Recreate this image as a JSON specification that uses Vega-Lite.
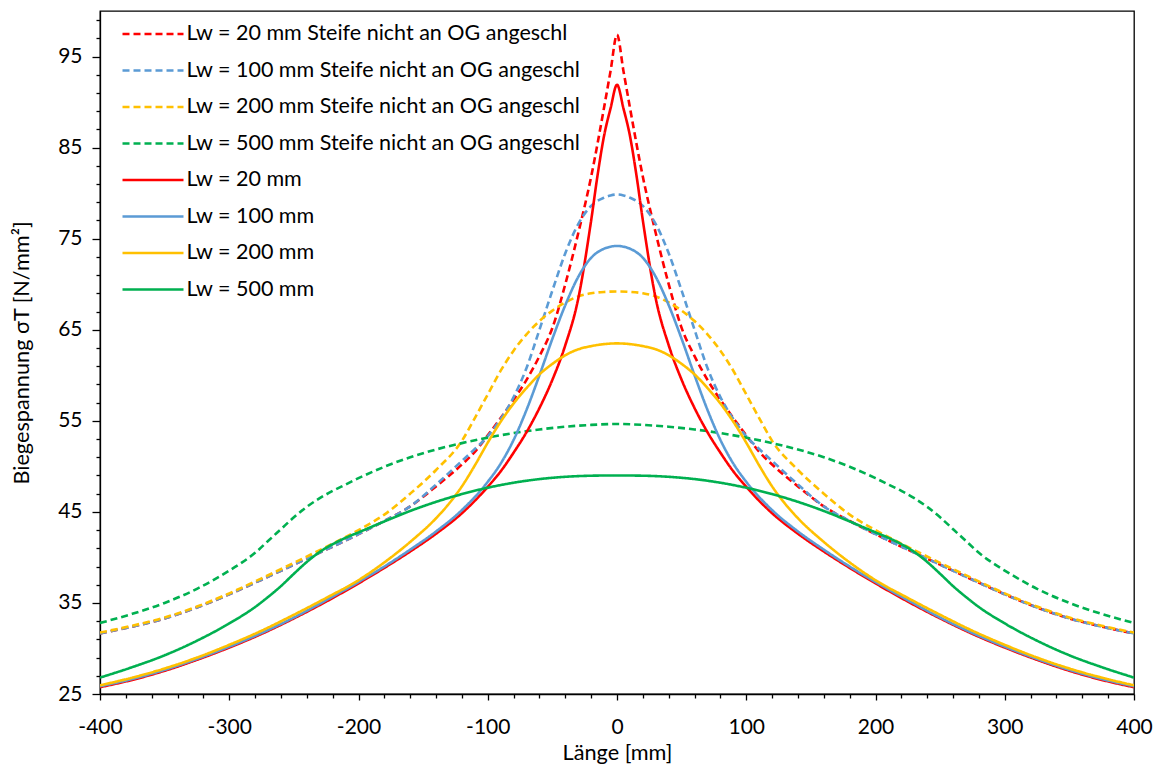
{
"$schema": "https://vega.github.io/schema/vega-lite/v6.json",
"width": 1034,
"height": 683,
"autosize": {"type": "none"},
"padding": {"left": 100, "top": 11, "right": 28, "bottom": 72},
"background": "white",
"config": {
  "view": {"stroke": "#000", "strokeWidth": 1.3},
  "font": "Lato",
  "axis": {"domainColor": "#000", "domainWidth": 1.3, "tickColor": "#000", "tickWidth": 1.3, "labelColor": "#000", "labelFont": "Lato", "labelFontSize": 21, "titleFont": "Lato", "titleFontSize": 21.7, "titleColor": "#000", "titleFontWeight": "normal", "grid": false, "labelOverlap": false, "labelFlush": false},
  "legend": {"orient": "none", "legendX": 21, "legendY": 11.5, "title": null, "symbolType": "M-3.05,0H3.05", "symbolSize": 400, "symbolStrokeWidth": 2.6, "symbolOffset": 20.5, "labelOffset": 22, "labelFont": "Lato", "labelFontSize": 21.5, "labelColor": "#000", "labelLimit": 600, "rowPadding": 14.5, "padding": 0}
},
"datasets": {
  "names": [
    {"k": "E", "Serie": "Lw = 20 mm Steife nicht an OG angeschl"},
    {"k": "F", "Serie": "Lw = 100 mm Steife nicht an OG angeschl"},
    {"k": "G", "Serie": "Lw = 200 mm Steife nicht an OG angeschl"},
    {"k": "H", "Serie": "Lw = 500 mm Steife nicht an OG angeschl"},
    {"k": "A", "Serie": "Lw = 20 mm"},
    {"k": "B", "Serie": "Lw = 100 mm"},
    {"k": "C", "Serie": "Lw = 200 mm"},
    {"k": "D", "Serie": "Lw = 500 mm"}
  ]
},
"data": {"values": [
{"k":"E","x":-400,"y":31.65},{"k":"E","x":-375,"y":32.4},{"k":"E","x":-350,"y":33.3},{"k":"E","x":-325,"y":34.5},{"k":"E","x":-300,"y":35.95},{"k":"E","x":-275,"y":37.55},{"k":"E","x":-250,"y":39.2},{"k":"E","x":-225,"y":40.85},{"k":"E","x":-200,"y":42.55},{"k":"E","x":-180,"y":44.0},{"k":"E","x":-160,"y":45.6},{"k":"E","x":-140,"y":47.8},{"k":"E","x":-120,"y":50.2},{"k":"E","x":-110,"y":51.6},{"k":"E","x":-100,"y":53.4},{"k":"E","x":-90,"y":55.3},{"k":"E","x":-80,"y":57.3},{"k":"E","x":-70,"y":59.5},{"k":"E","x":-60,"y":62.1},{"k":"E","x":-50,"y":65.2},{"k":"E","x":-40,"y":70.0},{"k":"E","x":-30,"y":75.6},{"k":"E","x":-20,"y":81.8},{"k":"E","x":-10,"y":89.4},{"k":"E","x":-5,"y":93.4},{"k":"E","x":0,"y":97.4},
{"k":"E","x":5,"y":93.4},{"k":"E","x":10,"y":89.4},{"k":"E","x":20,"y":81.8},{"k":"E","x":30,"y":75.6},{"k":"E","x":40,"y":70.0},{"k":"E","x":50,"y":65.2},{"k":"E","x":60,"y":62.1},{"k":"E","x":70,"y":59.5},{"k":"E","x":80,"y":57.3},{"k":"E","x":90,"y":55.3},{"k":"E","x":100,"y":53.4},{"k":"E","x":110,"y":51.6},{"k":"E","x":120,"y":50.2},{"k":"E","x":140,"y":47.8},{"k":"E","x":160,"y":45.6},{"k":"E","x":180,"y":44.0},{"k":"E","x":200,"y":42.55},{"k":"E","x":225,"y":40.85},{"k":"E","x":250,"y":39.2},{"k":"E","x":275,"y":37.55},{"k":"E","x":300,"y":35.95},{"k":"E","x":325,"y":34.5},{"k":"E","x":350,"y":33.3},{"k":"E","x":375,"y":32.4},{"k":"E","x":400,"y":31.65},
{"k":"F","x":-400,"y":31.65},{"k":"F","x":-375,"y":32.4},{"k":"F","x":-350,"y":33.3},{"k":"F","x":-325,"y":34.5},{"k":"F","x":-300,"y":35.95},{"k":"F","x":-275,"y":37.55},{"k":"F","x":-250,"y":39.2},{"k":"F","x":-225,"y":40.85},{"k":"F","x":-200,"y":42.55},{"k":"F","x":-180,"y":44.0},{"k":"F","x":-160,"y":45.6},{"k":"F","x":-140,"y":48.0},{"k":"F","x":-120,"y":50.6},{"k":"F","x":-110,"y":51.9},{"k":"F","x":-100,"y":53.3},{"k":"F","x":-90,"y":55.2},{"k":"F","x":-80,"y":57.6},{"k":"F","x":-70,"y":60.8},{"k":"F","x":-60,"y":65.0},{"k":"F","x":-50,"y":69.3},{"k":"F","x":-40,"y":73.4},{"k":"F","x":-30,"y":76.6},{"k":"F","x":-20,"y":78.6},{"k":"F","x":-10,"y":79.5},{"k":"F","x":-5,"y":79.75},{"k":"F","x":0,"y":79.85},
{"k":"F","x":5,"y":79.75},{"k":"F","x":10,"y":79.5},{"k":"F","x":20,"y":78.6},{"k":"F","x":30,"y":76.6},{"k":"F","x":40,"y":73.4},{"k":"F","x":50,"y":69.3},{"k":"F","x":60,"y":65.0},{"k":"F","x":70,"y":60.8},{"k":"F","x":80,"y":57.6},{"k":"F","x":90,"y":55.2},{"k":"F","x":100,"y":53.3},{"k":"F","x":110,"y":51.9},{"k":"F","x":120,"y":50.6},{"k":"F","x":140,"y":48.0},{"k":"F","x":160,"y":45.6},{"k":"F","x":180,"y":44.0},{"k":"F","x":200,"y":42.55},{"k":"F","x":225,"y":40.85},{"k":"F","x":250,"y":39.2},{"k":"F","x":275,"y":37.55},{"k":"F","x":300,"y":35.95},{"k":"F","x":325,"y":34.5},{"k":"F","x":350,"y":33.3},{"k":"F","x":375,"y":32.4},{"k":"F","x":400,"y":31.65},
{"k":"G","x":-400,"y":31.75},{"k":"G","x":-375,"y":32.5},{"k":"G","x":-350,"y":33.4},{"k":"G","x":-325,"y":34.6},{"k":"G","x":-300,"y":36.05},{"k":"G","x":-275,"y":37.7},{"k":"G","x":-250,"y":39.4},{"k":"G","x":-225,"y":41.15},{"k":"G","x":-200,"y":43.0},{"k":"G","x":-180,"y":44.7},{"k":"G","x":-160,"y":47.0},{"k":"G","x":-140,"y":49.6},{"k":"G","x":-120,"y":52.8},{"k":"G","x":-110,"y":55.3},{"k":"G","x":-100,"y":57.9},{"k":"G","x":-90,"y":60.5},{"k":"G","x":-80,"y":62.7},{"k":"G","x":-70,"y":64.5},{"k":"G","x":-60,"y":65.95},{"k":"G","x":-50,"y":67.1},{"k":"G","x":-40,"y":68.0},{"k":"G","x":-30,"y":68.65},{"k":"G","x":-20,"y":69.0},{"k":"G","x":-10,"y":69.15},{"k":"G","x":0,"y":69.2},
{"k":"G","x":10,"y":69.15},{"k":"G","x":20,"y":69.0},{"k":"G","x":30,"y":68.65},{"k":"G","x":40,"y":68.0},{"k":"G","x":50,"y":67.1},{"k":"G","x":60,"y":65.95},{"k":"G","x":70,"y":64.5},{"k":"G","x":80,"y":62.7},{"k":"G","x":90,"y":60.5},{"k":"G","x":100,"y":57.9},{"k":"G","x":110,"y":55.3},{"k":"G","x":120,"y":52.8},{"k":"G","x":140,"y":49.6},{"k":"G","x":160,"y":47.0},{"k":"G","x":180,"y":44.7},{"k":"G","x":200,"y":43.0},{"k":"G","x":225,"y":41.15},{"k":"G","x":250,"y":39.4},{"k":"G","x":275,"y":37.7},{"k":"G","x":300,"y":36.05},{"k":"G","x":325,"y":34.6},{"k":"G","x":350,"y":33.4},{"k":"G","x":375,"y":32.5},{"k":"G","x":400,"y":31.75},
{"k":"H","x":-400,"y":32.8},{"k":"H","x":-375,"y":33.8},{"k":"H","x":-350,"y":35.0},{"k":"H","x":-325,"y":36.55},{"k":"H","x":-300,"y":38.55},{"k":"H","x":-290,"y":39.45},{"k":"H","x":-280,"y":40.5},{"k":"H","x":-270,"y":41.8},{"k":"H","x":-260,"y":43.1},{"k":"H","x":-250,"y":44.4},{"k":"H","x":-240,"y":45.55},{"k":"H","x":-230,"y":46.5},{"k":"H","x":-220,"y":47.3},{"k":"H","x":-210,"y":48.0},{"k":"H","x":-200,"y":48.7},{"k":"H","x":-180,"y":49.95},{"k":"H","x":-160,"y":51.0},{"k":"H","x":-140,"y":51.85},{"k":"H","x":-120,"y":52.55},{"k":"H","x":-100,"y":53.15},{"k":"H","x":-80,"y":53.65},{"k":"H","x":-60,"y":54.05},{"k":"H","x":-40,"y":54.35},{"k":"H","x":-20,"y":54.55},{"k":"H","x":0,"y":54.65},
{"k":"H","x":20,"y":54.55},{"k":"H","x":40,"y":54.35},{"k":"H","x":60,"y":54.05},{"k":"H","x":80,"y":53.65},{"k":"H","x":100,"y":53.15},{"k":"H","x":120,"y":52.55},{"k":"H","x":140,"y":51.85},{"k":"H","x":160,"y":51.0},{"k":"H","x":180,"y":49.95},{"k":"H","x":200,"y":48.7},{"k":"H","x":210,"y":48.0},{"k":"H","x":220,"y":47.3},{"k":"H","x":230,"y":46.5},{"k":"H","x":240,"y":45.55},{"k":"H","x":250,"y":44.4},{"k":"H","x":260,"y":43.1},{"k":"H","x":270,"y":41.8},{"k":"H","x":280,"y":40.5},{"k":"H","x":290,"y":39.45},{"k":"H","x":300,"y":38.55},{"k":"H","x":325,"y":36.55},{"k":"H","x":350,"y":35.0},{"k":"H","x":375,"y":33.8},{"k":"H","x":400,"y":32.8},
{"k":"A","x":-400,"y":25.75},{"k":"A","x":-375,"y":26.55},{"k":"A","x":-350,"y":27.55},{"k":"A","x":-325,"y":28.75},{"k":"A","x":-300,"y":30.1},{"k":"A","x":-275,"y":31.6},{"k":"A","x":-250,"y":33.3},{"k":"A","x":-225,"y":35.15},{"k":"A","x":-200,"y":37.15},{"k":"A","x":-180,"y":38.85},{"k":"A","x":-160,"y":40.65},{"k":"A","x":-140,"y":42.6},{"k":"A","x":-120,"y":44.85},{"k":"A","x":-100,"y":47.75},{"k":"A","x":-90,"y":49.45},{"k":"A","x":-80,"y":51.5},{"k":"A","x":-70,"y":53.75},{"k":"A","x":-60,"y":56.4},{"k":"A","x":-50,"y":59.5},{"k":"A","x":-40,"y":63.3},{"k":"A","x":-30,"y":68.4},{"k":"A","x":-20,"y":77.0},{"k":"A","x":-15,"y":82.0},{"k":"A","x":-10,"y":86.3},{"k":"A","x":-5,"y":89.3},{"k":"A","x":0,"y":91.9},
{"k":"A","x":5,"y":89.3},{"k":"A","x":10,"y":86.3},{"k":"A","x":15,"y":82.0},{"k":"A","x":20,"y":77.0},{"k":"A","x":30,"y":68.4},{"k":"A","x":40,"y":63.3},{"k":"A","x":50,"y":59.5},{"k":"A","x":60,"y":56.4},{"k":"A","x":70,"y":53.75},{"k":"A","x":80,"y":51.5},{"k":"A","x":90,"y":49.45},{"k":"A","x":100,"y":47.75},{"k":"A","x":120,"y":44.85},{"k":"A","x":140,"y":42.6},{"k":"A","x":160,"y":40.65},{"k":"A","x":180,"y":38.85},{"k":"A","x":200,"y":37.15},{"k":"A","x":225,"y":35.15},{"k":"A","x":250,"y":33.3},{"k":"A","x":275,"y":31.6},{"k":"A","x":300,"y":30.1},{"k":"A","x":325,"y":28.75},{"k":"A","x":350,"y":27.55},{"k":"A","x":375,"y":26.55},{"k":"A","x":400,"y":25.75},
{"k":"B","x":-400,"y":25.85},{"k":"B","x":-375,"y":26.65},{"k":"B","x":-350,"y":27.65},{"k":"B","x":-325,"y":28.85},{"k":"B","x":-300,"y":30.2},{"k":"B","x":-275,"y":31.7},{"k":"B","x":-250,"y":33.4},{"k":"B","x":-225,"y":35.3},{"k":"B","x":-200,"y":37.3},{"k":"B","x":-180,"y":39.0},{"k":"B","x":-160,"y":40.85},{"k":"B","x":-140,"y":42.85},{"k":"B","x":-120,"y":45.2},{"k":"B","x":-100,"y":48.3},{"k":"B","x":-90,"y":50.3},{"k":"B","x":-80,"y":52.9},{"k":"B","x":-70,"y":56.2},{"k":"B","x":-60,"y":60.0},{"k":"B","x":-50,"y":64.0},{"k":"B","x":-40,"y":67.7},{"k":"B","x":-30,"y":70.8},{"k":"B","x":-20,"y":72.9},{"k":"B","x":-10,"y":73.9},{"k":"B","x":-5,"y":74.12},{"k":"B","x":0,"y":74.2},
{"k":"B","x":5,"y":74.12},{"k":"B","x":10,"y":73.9},{"k":"B","x":20,"y":72.9},{"k":"B","x":30,"y":70.8},{"k":"B","x":40,"y":67.7},{"k":"B","x":50,"y":64.0},{"k":"B","x":60,"y":60.0},{"k":"B","x":70,"y":56.2},{"k":"B","x":80,"y":52.9},{"k":"B","x":90,"y":50.3},{"k":"B","x":100,"y":48.3},{"k":"B","x":120,"y":45.2},{"k":"B","x":140,"y":42.85},{"k":"B","x":160,"y":40.85},{"k":"B","x":180,"y":39.0},{"k":"B","x":200,"y":37.3},{"k":"B","x":225,"y":35.3},{"k":"B","x":250,"y":33.4},{"k":"B","x":275,"y":31.7},{"k":"B","x":300,"y":30.2},{"k":"B","x":325,"y":28.85},{"k":"B","x":350,"y":27.65},{"k":"B","x":375,"y":26.65},{"k":"B","x":400,"y":25.85},
{"k":"C","x":-400,"y":25.95},{"k":"C","x":-375,"y":26.8},{"k":"C","x":-350,"y":27.8},{"k":"C","x":-325,"y":29.0},{"k":"C","x":-300,"y":30.4},{"k":"C","x":-275,"y":31.95},{"k":"C","x":-250,"y":33.7},{"k":"C","x":-225,"y":35.55},{"k":"C","x":-200,"y":37.5},{"k":"C","x":-180,"y":39.45},{"k":"C","x":-160,"y":41.7},{"k":"C","x":-140,"y":44.3},{"k":"C","x":-130,"y":45.9},{"k":"C","x":-120,"y":47.8},{"k":"C","x":-110,"y":50.1},{"k":"C","x":-100,"y":52.6},{"k":"C","x":-90,"y":54.9},{"k":"C","x":-80,"y":56.9},{"k":"C","x":-70,"y":58.6},{"k":"C","x":-60,"y":60.1},{"k":"C","x":-50,"y":61.25},{"k":"C","x":-40,"y":62.2},{"k":"C","x":-30,"y":62.85},{"k":"C","x":-20,"y":63.2},{"k":"C","x":-10,"y":63.42},{"k":"C","x":0,"y":63.5},
{"k":"C","x":10,"y":63.42},{"k":"C","x":20,"y":63.2},{"k":"C","x":30,"y":62.85},{"k":"C","x":40,"y":62.2},{"k":"C","x":50,"y":61.25},{"k":"C","x":60,"y":60.1},{"k":"C","x":70,"y":58.6},{"k":"C","x":80,"y":56.9},{"k":"C","x":90,"y":54.9},{"k":"C","x":100,"y":52.6},{"k":"C","x":110,"y":50.1},{"k":"C","x":120,"y":47.8},{"k":"C","x":130,"y":45.9},{"k":"C","x":140,"y":44.3},{"k":"C","x":160,"y":41.7},{"k":"C","x":180,"y":39.45},{"k":"C","x":200,"y":37.5},{"k":"C","x":225,"y":35.55},{"k":"C","x":250,"y":33.7},{"k":"C","x":275,"y":31.95},{"k":"C","x":300,"y":30.4},{"k":"C","x":325,"y":29.0},{"k":"C","x":350,"y":27.8},{"k":"C","x":375,"y":26.8},{"k":"C","x":400,"y":25.95},
{"k":"D","x":-400,"y":26.8},{"k":"D","x":-375,"y":27.95},{"k":"D","x":-350,"y":29.25},{"k":"D","x":-325,"y":30.85},{"k":"D","x":-300,"y":32.75},{"k":"D","x":-280,"y":34.55},{"k":"D","x":-270,"y":35.65},{"k":"D","x":-260,"y":36.85},{"k":"D","x":-250,"y":38.2},{"k":"D","x":-240,"y":39.5},{"k":"D","x":-230,"y":40.6},{"k":"D","x":-220,"y":41.45},{"k":"D","x":-210,"y":42.15},{"k":"D","x":-200,"y":42.75},{"k":"D","x":-180,"y":43.95},{"k":"D","x":-160,"y":45.1},{"k":"D","x":-140,"y":46.1},{"k":"D","x":-120,"y":46.95},{"k":"D","x":-100,"y":47.65},{"k":"D","x":-80,"y":48.2},{"k":"D","x":-60,"y":48.6},{"k":"D","x":-40,"y":48.85},{"k":"D","x":-20,"y":48.97},{"k":"D","x":0,"y":49.0},
{"k":"D","x":20,"y":48.97},{"k":"D","x":40,"y":48.85},{"k":"D","x":60,"y":48.6},{"k":"D","x":80,"y":48.2},{"k":"D","x":100,"y":47.65},{"k":"D","x":120,"y":46.95},{"k":"D","x":140,"y":46.1},{"k":"D","x":160,"y":45.1},{"k":"D","x":180,"y":43.95},{"k":"D","x":200,"y":42.75},{"k":"D","x":210,"y":42.15},{"k":"D","x":220,"y":41.45},{"k":"D","x":230,"y":40.6},{"k":"D","x":240,"y":39.5},{"k":"D","x":250,"y":38.2},{"k":"D","x":260,"y":36.85},{"k":"D","x":270,"y":35.65},{"k":"D","x":280,"y":34.55},{"k":"D","x":300,"y":32.75},{"k":"D","x":325,"y":30.85},{"k":"D","x":350,"y":29.25},{"k":"D","x":375,"y":27.95},{"k":"D","x":400,"y":26.8}
]},
"transform": [
  {"lookup": "k", "from": {"data": {"name": "names"}, "key": "k", "fields": ["Serie"]}}
],
"mark": {"type": "line", "strokeWidth": 2.6, "interpolate": "monotone", "clip": true},
"encoding": {
  "x": {"field": "x", "type": "quantitative", "title": "Länge [mm]",
    "scale": {"domain": [-400, 400], "nice": false, "zero": false},
    "axis": {"values": [-400,-380,-360,-340,-320,-300,-280,-260,-240,-220,-200,-180,-160,-140,-120,-100,-80,-60,-40,-20,0,20,40,60,80,100,120,140,160,180,200,220,240,260,280,300,320,340,360,380,400],
      "labelExpr": "datum.value % 100 === 0 ? '' + datum.value : ''",
      "tickSize": {"condition": {"test": "datum.value % 100 === 0", "value": 6}, "value": 4},
      "labelPadding": 16, "titlePadding": 5}},
  "y": {"field": "y", "type": "quantitative", "title": "Biegespannung σT [N/mm²]",
    "scale": {"domain": [25, 100], "nice": false, "zero": false},
    "axis": {"values": [25,27,29,31,33,35,37,39,41,43,45,47,49,51,53,55,57,59,61,63,65,67,69,71,73,75,77,79,81,83,85,87,89,91,93,95,97,99],
      "labelExpr": "(datum.value - 25) % 10 === 0 ? datum.label : ''",
      "tickSize": {"condition": {"test": "(datum.value - 25) % 10 === 0", "value": 8}, "value": 4},
      "labelPadding": 10, "titlePadding": 24}},
  "color": {"field": "Serie", "type": "nominal",
    "scale": {"domain": ["Lw = 20 mm Steife nicht an OG angeschl", "Lw = 100 mm Steife nicht an OG angeschl", "Lw = 200 mm Steife nicht an OG angeschl", "Lw = 500 mm Steife nicht an OG angeschl", "Lw = 20 mm", "Lw = 100 mm", "Lw = 200 mm", "Lw = 500 mm"],
      "range": ["#FF0000", "#5B9BD5", "#FFC000", "#00B050", "#FF0000", "#5B9BD5", "#FFC000", "#00B050"]},
    "legend": {"title": null}},
  "strokeDash": {"field": "Serie", "type": "nominal",
    "scale": {"domain": ["Lw = 20 mm Steife nicht an OG angeschl", "Lw = 100 mm Steife nicht an OG angeschl", "Lw = 200 mm Steife nicht an OG angeschl", "Lw = 500 mm Steife nicht an OG angeschl", "Lw = 20 mm", "Lw = 100 mm", "Lw = 200 mm", "Lw = 500 mm"],
      "range": [[7, 4], [7, 4], [7, 4], [7, 4], [1, 0], [1, 0], [1, 0], [1, 0]]},
    "legend": {"title": null}}
}
}
